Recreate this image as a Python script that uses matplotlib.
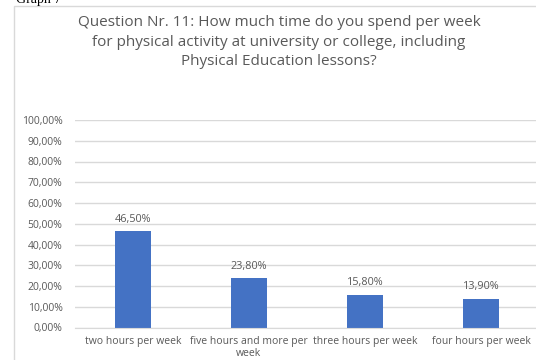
import matplotlib.pyplot as plt
from matplotlib.patches import Rectangle
from matplotlib.ticker import FuncFormatter, MultipleLocator

# survey answers, share of respondents in percent
categories = ["two hours per week", "five hours and more per\nweek",
              "three hours per week", "four hours per week"]
shares = [46.5, 23.8, 15.8, 13.9]

TITLE = ("Question Nr. 11: How much time do you spend per week\n"
         "for physical activity at university or college, including\n"
         "Physical Education lessons?")
GREY = "#595959"
BAR = "#4472c4"

W, H = 536, 360
fig = plt.figure(figsize=(W / 100, H / 100), dpi=100)

# chart frame, it runs off the page on the right and bottom
fig.patches.append(Rectangle((14 / W, -0.1), 1.0, 1.1 - 6 / H,
                             transform=fig.transFigure, fill=False,
                             edgecolor="#d9d9d9", linewidth=1))
fig.text(16 / W, 1 - 3 / H, "Graph 7", family="Liberation Serif",
         fontsize=10, color="black", ha="left", va="baseline")

fig.text(279 / W, 1 - 15 / H, TITLE, ha="center", va="top", color=GREY,
         fontsize=11, family="Open Sans", linespacing=1.42)

ax = fig.add_axes([75 / W, 1 - 327.5 / H, 464 / W, 207.5 / H])
x = range(len(categories))
bars = ax.bar(x, shares, width=0.31, color=BAR, zorder=2)

ax.set_xlim(-0.5, len(categories) - 0.5)
ax.set_ylim(0, 100)
ax.yaxis.set_major_locator(MultipleLocator(10))
ax.yaxis.set_major_formatter(FuncFormatter(lambda v, p: f"{v:.2f}%".replace(".", ",")))
ax.grid(axis="y", color="#d9d9d9", linewidth=1, zorder=0)
for s in ax.spines.values():
    s.set_visible(False)
ax.spines["bottom"].set_visible(True)
ax.spines["bottom"].set_color("#d9d9d9")
ax.tick_params(length=0, colors=GREY, labelsize=7.5, pad=9)
ax.tick_params(axis="x", pad=6)
ax.set_xticks(list(x))
ax.set_xticklabels(categories, fontsize=7.5, linespacing=1.1)
for lbl in ax.get_yticklabels() + ax.get_xticklabels():
    lbl.set_family("Open Sans")

for b, v in zip(bars, shares):
    ax.text(b.get_x() + b.get_width() / 2, v + 3.0, f"{v:.2f}%".replace(".", ","),
            ha="center", va="bottom", fontsize=7.8, color=GREY, family="Open Sans")

fig.savefig("out.png", dpi=100)
